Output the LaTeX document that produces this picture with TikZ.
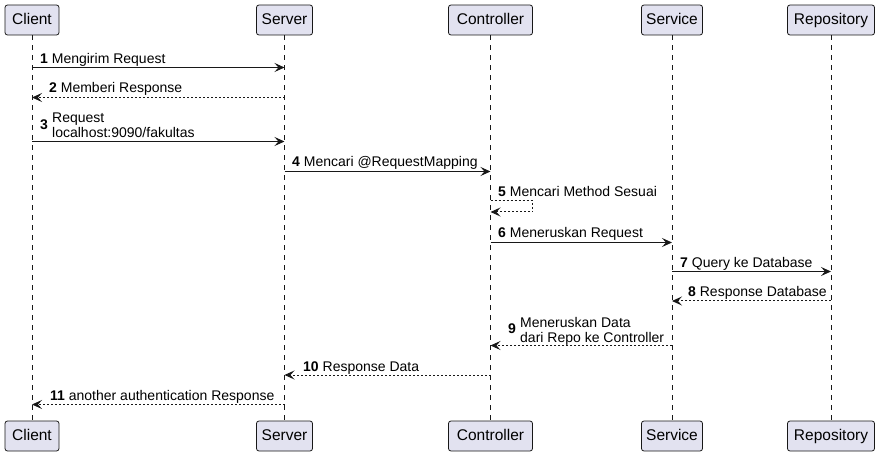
\documentclass[tikz,border=0pt]{standalone}
\usepackage{fontspec}
\setmainfont{Liberation Sans}
\usetikzlibrary{arrows.meta}
\definecolor{pfill}{HTML}{E2E2F0}
\definecolor{pline}{HTML}{181818}
\tikzset{
  part/.style={draw=pline, fill=pfill, line width=0.8pt, rounded corners=2.5pt, minimum height=30pt, inner sep=0pt, text height=11pt, text depth=2.5pt, font=\fontsize{15.5}{17}\selectfont, text=black},
  life/.style={draw=pline, line width=0.5pt, dash pattern=on 5pt off 5pt},
  msg/.style={draw=pline, line width=1pt, -{Stealth[length=10pt,width=9pt,inset=4pt]}},
  dmsg/.style={msg, dash pattern=on 2pt off 2pt},
  lbl/.style={inner sep=0pt, anchor=base west, font=\fontsize{14}{15}\selectfont, text=black, align=left},
}
\begin{document}
\begin{tikzpicture}[x=1pt,y=-1pt]
\useasboundingbox (0,0) rectangle (879,457);
% participants top
\node[part, minimum width=54pt] (Client) at (32,20) {Client};
\node[part, minimum width=56pt] (Server) at (284.5,20) {Server};
\node[part, minimum width=84pt] (Controller) at (490.5,20) {Controller};
\node[part, minimum width=61pt] (Service) at (672,20) {Service};
\node[part, minimum width=87pt] (Repository) at (831,20) {Repository};
% participants bottom
\node[part, minimum width=54pt] (ClientB) at (32,436) {Client};
\node[part, minimum width=56pt] (ServerB) at (284.5,436) {Server};
\node[part, minimum width=84pt] (ControllerB) at (490.5,436) {Controller};
\node[part, minimum width=61pt] (ServiceB) at (672,436) {Service};
\node[part, minimum width=87pt] (RepositoryB) at (831,436) {Repository};
% lifelines
\draw[life] (Client.south) -- (ClientB.north);
\draw[life] (Server.south) -- (ServerB.north);
\draw[life] (Controller.south) -- (ControllerB.north);
\draw[life] (Service.south) -- (ServiceB.north);
\draw[life] (Repository.south) -- (RepositoryB.north);
% 1
\coordinate (a1) at (Client |- 0,67.5);
\coordinate (b1) at (Server |- 0,67.5);
\draw[msg] (a1) -- (b1);
\node[lbl] (l1) at (40,63.5) {\textbf{1} Mengirim Request};
% 2
\coordinate (a2) at (Server |- 0,97.5);
\coordinate (b2) at (Client |- 0,97.5);
\draw[dmsg] (a2) -- (b2);
\node[lbl] (l2) at (49,93) {\textbf{2} Memberi Response};
% 3
\coordinate (a3) at (Client |- 0,141.5);
\coordinate (b3) at (Server |- 0,141.5);
\draw[msg] (a3) -- (b3);
\node[lbl] (n3) at (40,130) {\textbf{3}};
\node[lbl] (l3) at (52,137.5) {Request\\localhost:9090/fakultas};
% 4
\coordinate (a4) at (Server |- 0,171.5);
\coordinate (b4) at (Controller |- 0,171.5);
\draw[msg] (a4) -- (b4);
\node[lbl] (l4) at (292,166.5) {\textbf{4} Mencari @RequestMapping};
% 5 self
\coordinate (a5) at (Controller |- 0,201);
\coordinate (b5) at (Controller |- 0,212);
\draw[dmsg] (a5) -- ++(42,0) -- ++(0,11) -- (b5);
\node[lbl] (l5) at (498,196.5) {\textbf{5} Mencari Method Sesuai};
% 6
\coordinate (a6) at (Controller |- 0,242.5);
\coordinate (b6) at (Service |- 0,242.5);
\draw[msg] (a6) -- (b6);
\node[lbl] (l6) at (498,238) {\textbf{6} Meneruskan Request};
% 7
\coordinate (a7) at (Service |- 0,271.5);
\coordinate (b7) at (Repository |- 0,271.5);
\draw[msg] (a7) -- (b7);
\node[lbl] (l7) at (680,267.5) {\textbf{7} Query ke Database};
% 8
\coordinate (a8) at (Repository |- 0,301);
\coordinate (b8) at (Service |- 0,301);
\draw[dmsg] (a8) -- (b8);
\node[lbl] (l8) at (688,297) {\textbf{8} Response Database};
% 9
\coordinate (a9) at (Service |- 0,345.5);
\coordinate (b9) at (Controller |- 0,345.5);
\draw[dmsg] (a9) -- (b9);
\node[lbl] (n9) at (508,334) {\textbf{9}};
\node[lbl] (l9) at (520,342) {Meneruskan Data\\dari Repo ke Controller};
% 10
\coordinate (a10) at (Controller |- 0,375);
\coordinate (b10) at (Server |- 0,375);
\draw[dmsg] (a10) -- (b10);
\node[lbl] (l10) at (303,371) {\textbf{10} Response Data};
% 11
\coordinate (a11) at (Server |- 0,404.5);
\coordinate (b11) at (Client |- 0,404.5);
\draw[dmsg] (a11) -- (b11);
\node[lbl] (l11) at (50,400.5) {\textbf{11} another authentication Response};
\end{tikzpicture}
\end{document}
